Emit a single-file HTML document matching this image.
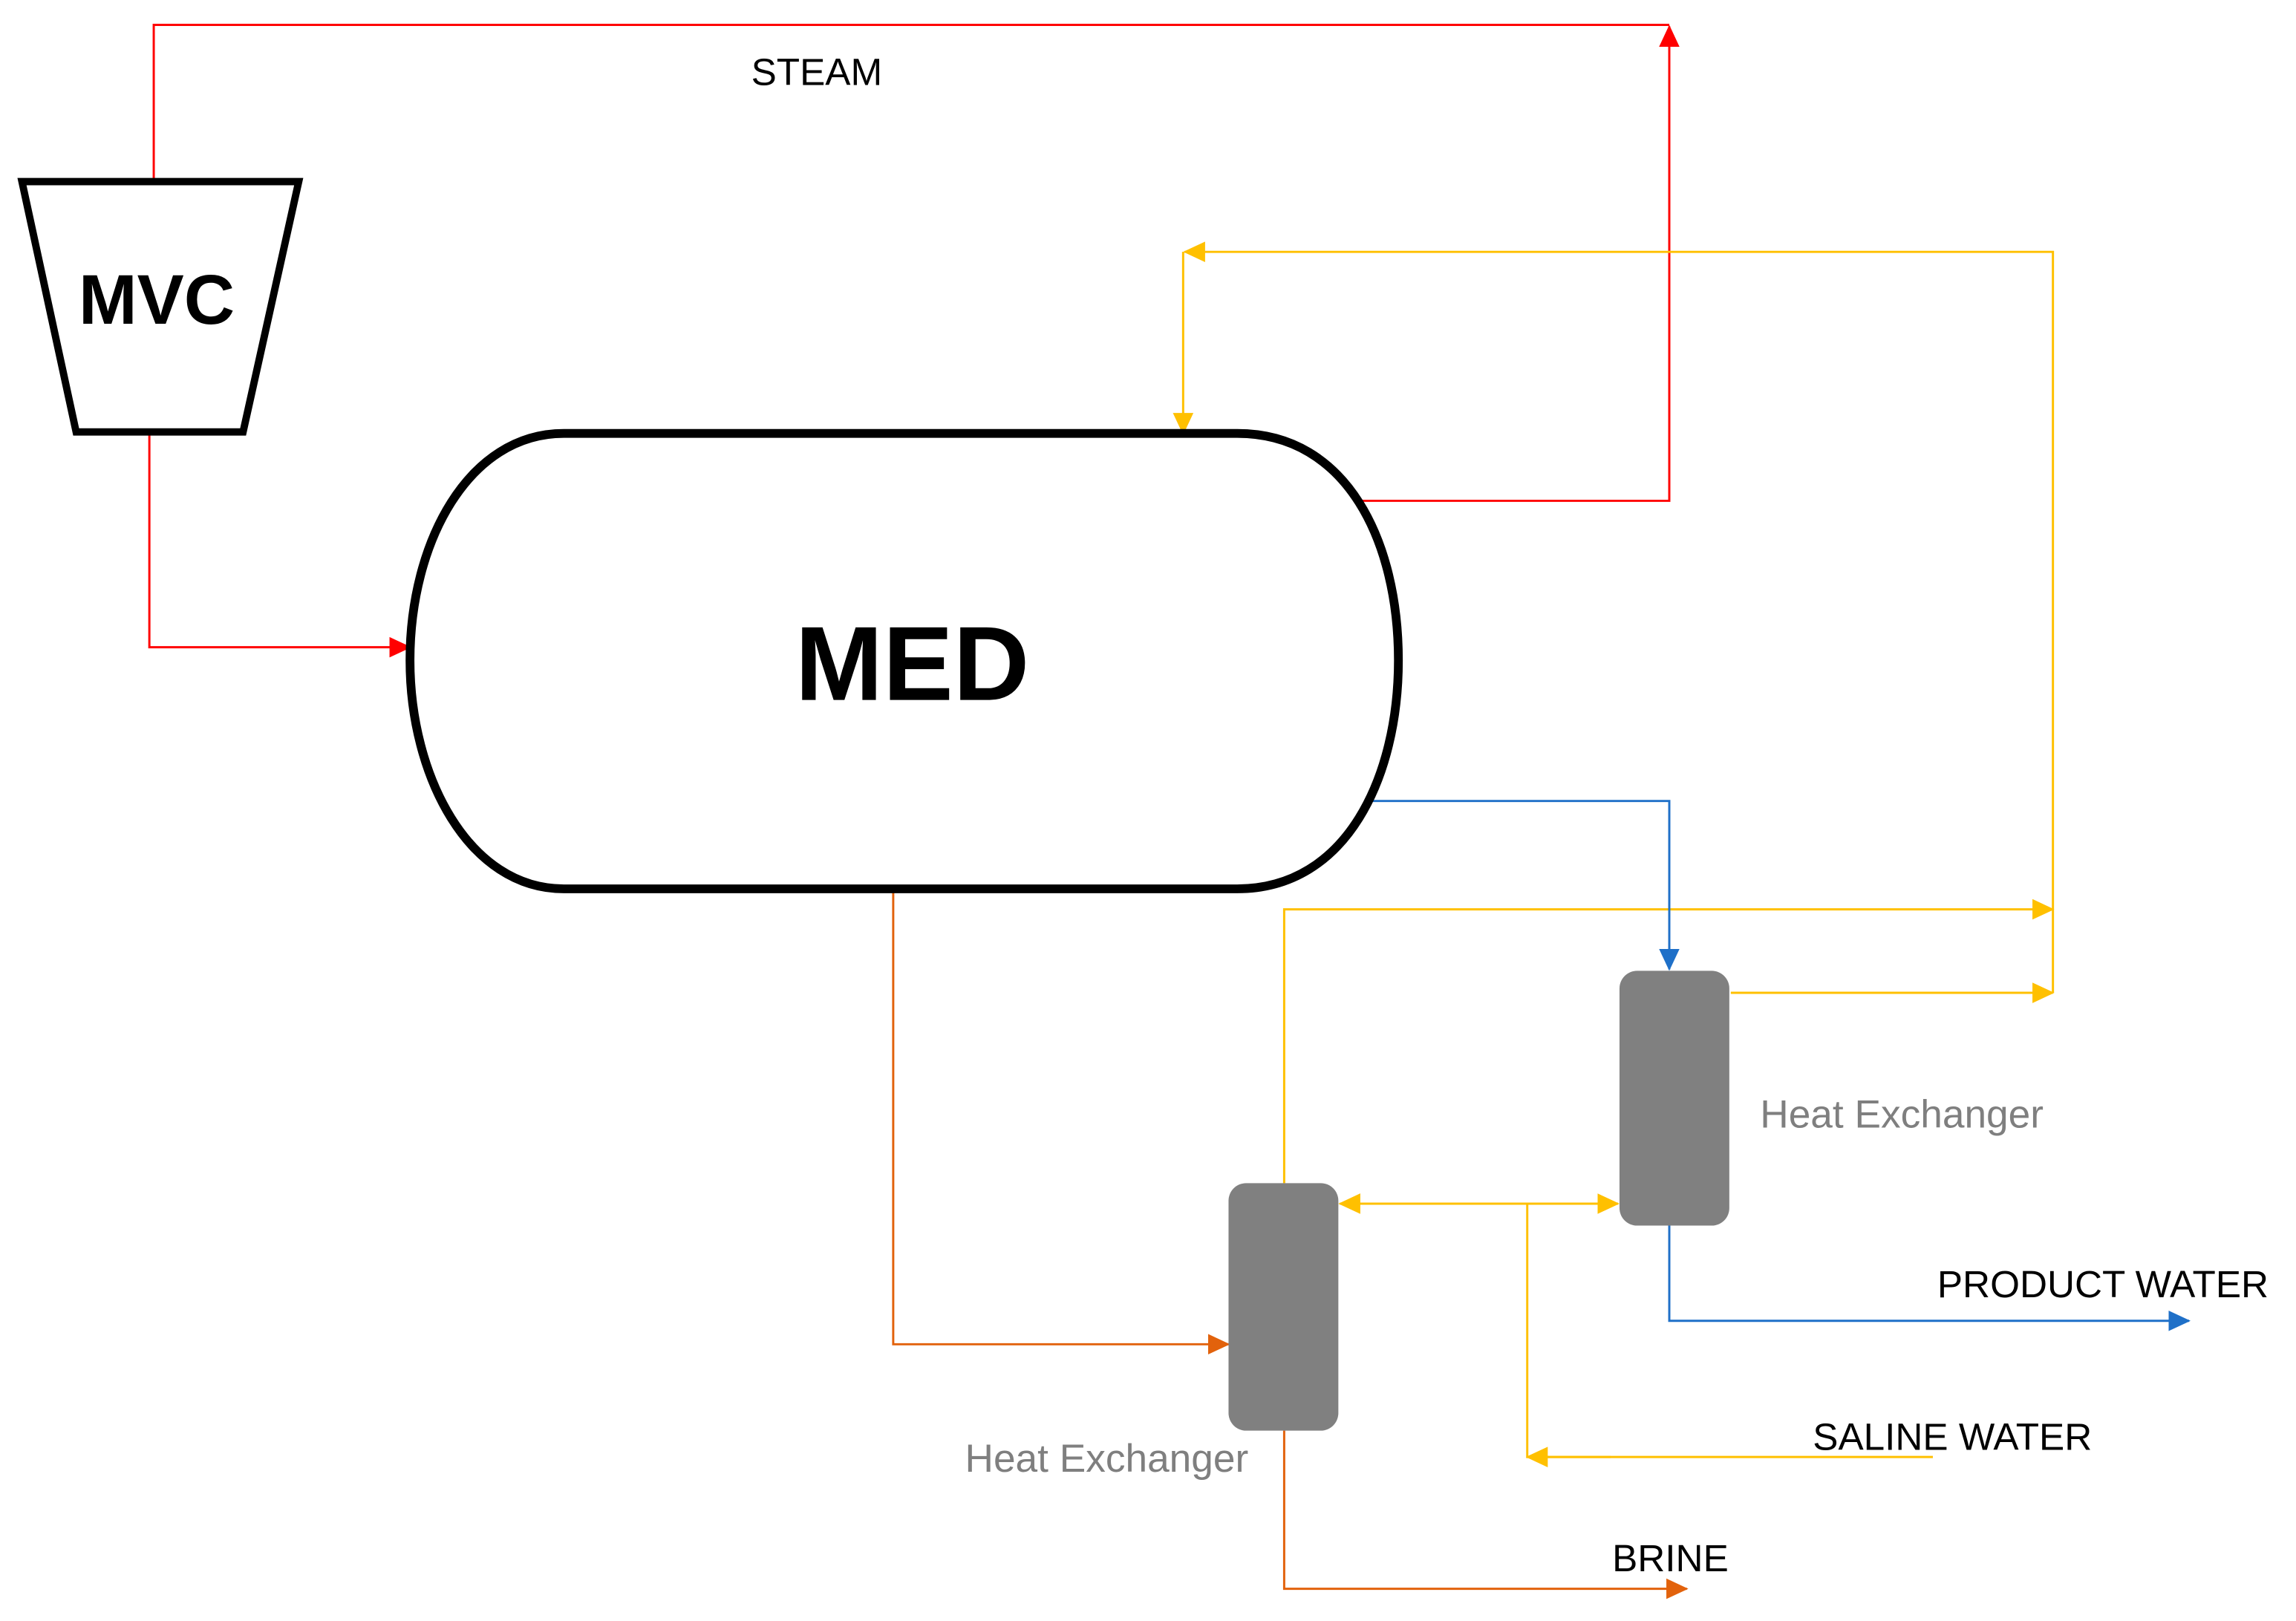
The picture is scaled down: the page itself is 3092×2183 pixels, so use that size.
<!DOCTYPE html>
<html><head><style>html,body{margin:0;padding:0;background:#fff}svg{display:block}</style></head>
<body>
<svg width="3092" height="2183" viewBox="0 0 1568 1107" preserveAspectRatio="none" xmlns="http://www.w3.org/2000/svg" font-family="Liberation Sans, sans-serif">
<defs>
<marker id="r" markerWidth="8" markerHeight="8" refX="7" refY="4" orient="auto" markerUnits="userSpaceOnUse" viewBox="0 0 8 8"><path d="M0,0L8,4L0,8Z" fill="#ff0000"/></marker>
<marker id="y" markerWidth="16" markerHeight="16" refX="14" refY="8" orient="auto-start-reverse" markerUnits="userSpaceOnUse"><path d="M0,1L15,8L0,15Z" fill="#ffc000"/></marker>
<marker id="b" markerWidth="16" markerHeight="16" refX="14" refY="8" orient="auto" markerUnits="userSpaceOnUse"><path d="M0,1L15,8L0,15Z" fill="#1f70c8"/></marker>
<marker id="o" markerWidth="16" markerHeight="16" refX="14" refY="8" orient="auto" markerUnits="userSpaceOnUse"><path d="M0,1L15,8L0,15Z" fill="#e2620c"/></marker>
<marker id="rr" markerWidth="16" markerHeight="16" refX="14" refY="8" orient="auto" markerUnits="userSpaceOnUse"><path d="M0,1L15,8L0,15Z" fill="#ff0000"/></marker>
</defs>
<g fill="none" stroke-width="1.5">
<!-- red -->
<path d="M105,124V17H1140" stroke="#ff0000"/>
<path d="M930,342H1140V18" stroke="#ff0000" marker-end="url(#rr)"/>
<path d="M102,295V442H280" stroke="#ff0000" marker-end="url(#rr)"/>
<!-- yellow -->
<path d="M1402,678V172H809" stroke="#ffc000" marker-end="url(#y)"/>
<path d="M808,172V296" stroke="#ffc000" marker-end="url(#y)"/>
<path d="M877,808V621H1402" stroke="#ffc000" marker-end="url(#y)"/>
<path d="M1182,678H1402" stroke="#ffc000" marker-end="url(#y)"/>
<path d="M915,822H1105" stroke="#ffc000" marker-start="url(#y)" marker-end="url(#y)"/>
<path d="M1320,995H1043V822" stroke="#ffc000"/>
<path d="M1100,995H1043" stroke="#ffc000" marker-end="url(#y)"/>
<!-- blue -->
<path d="M930,547H1140V662" stroke="#1f70c8" marker-end="url(#b)"/>
<path d="M1140,837V902H1495" stroke="#1f70c8" marker-end="url(#b)"/>
<!-- orange -->
<path d="M610,607V918H839" stroke="#e2620c" marker-end="url(#o)"/>
<path d="M877,977V1085H1152" stroke="#e2620c" marker-end="url(#o)"/>
</g>
<path d="M15,124H204L166,295H52Z" fill="#fff" stroke="#000" stroke-width="5" stroke-linejoin="miter"/>
<path d="M385,296L845,296C920,296 955,370 955,451C955,530 920,607 845,607L385,607C320,607 280,530 280,451C280,370 320,296 385,296Z" fill="#fff" stroke="#000" stroke-width="6"/>
<rect x="1106" y="663" width="75" height="174" rx="12" fill="#808080"/>
<rect x="839" y="808" width="75" height="169" rx="12" fill="#808080"/>
<text x="107" y="221" font-size="48" font-weight="bold" text-anchor="middle">MVC</text>
<text x="623" y="478" font-size="72" font-weight="bold" text-anchor="middle">MED</text>
<text x="513" y="58" font-size="26">STEAM</text>
<text x="1202" y="770" font-size="27" fill="#7f7f7f">Heat Exchanger</text>
<text x="659" y="1005" font-size="27" fill="#7f7f7f">Heat Exchanger</text>
<text x="1323" y="886" font-size="26">PRODUCT WATER</text>
<text x="1238" y="990" font-size="26">SALINE WATER</text>
<text x="1101" y="1073" font-size="26">BRINE</text>
</svg>
</body></html>
